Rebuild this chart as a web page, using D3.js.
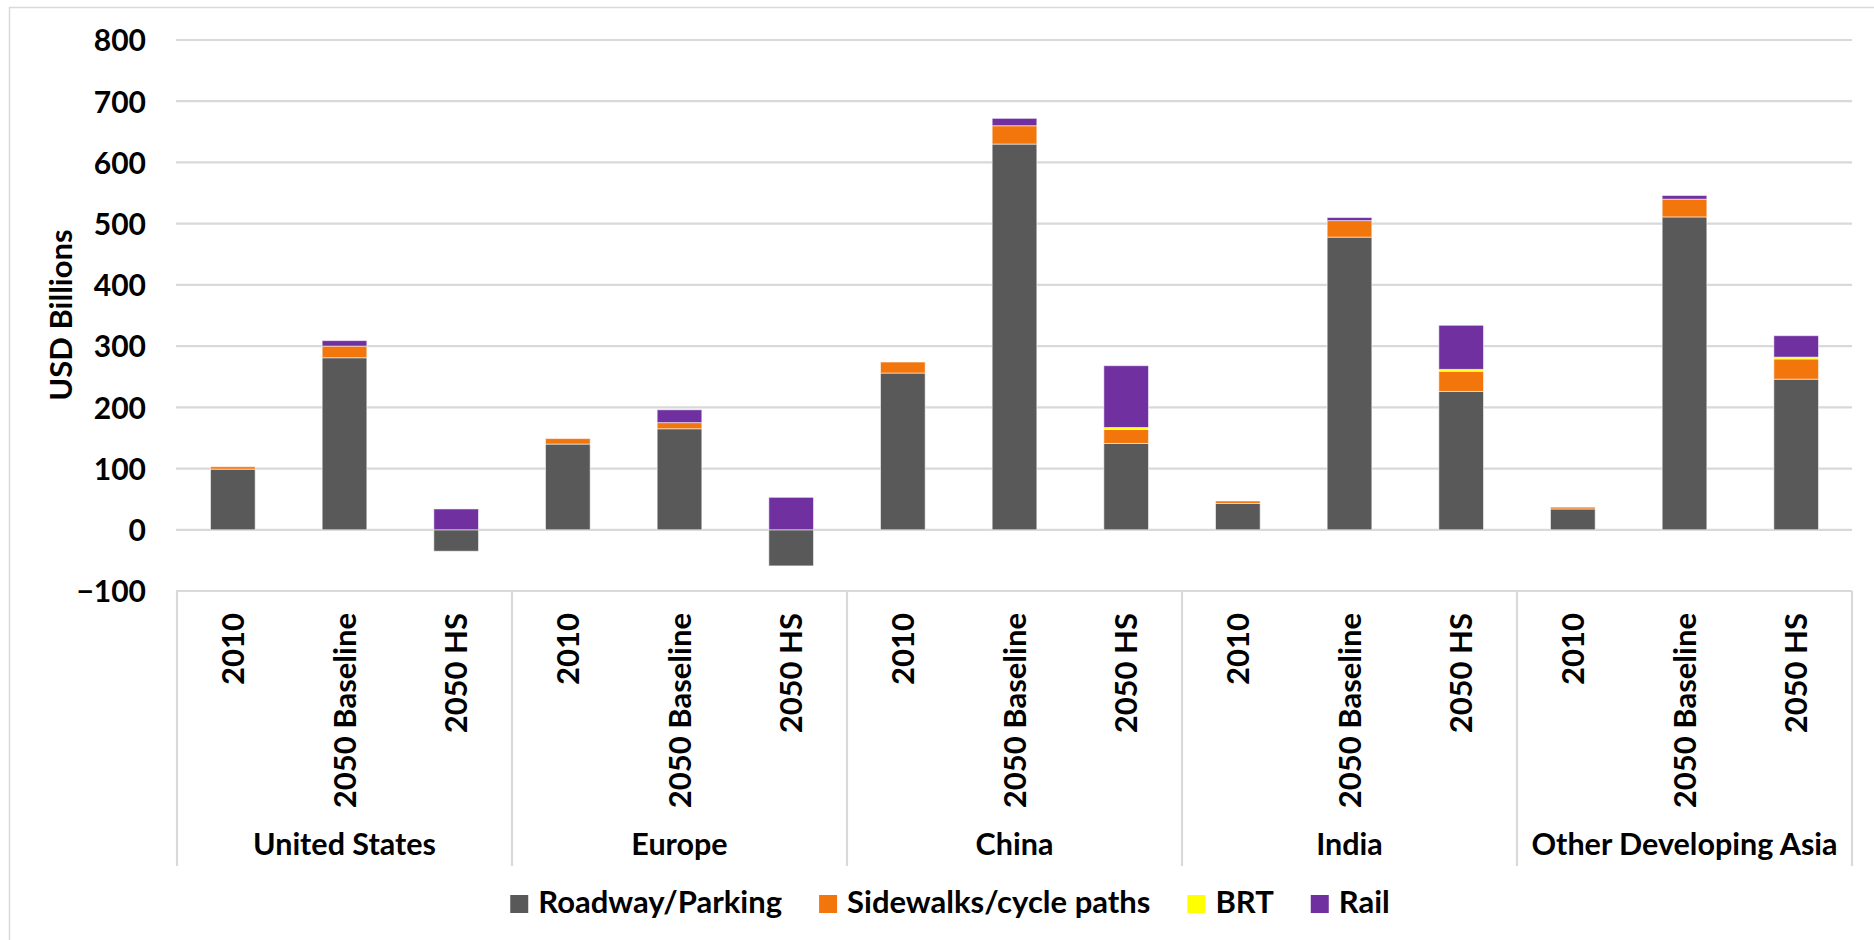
<!DOCTYPE html>
<html>
<head>
<meta charset="utf-8">
<script src="https://cdn.jsdelivr.net/npm/d3@7"></script>
<style>
  body { margin: 0; background: #fff; }
  svg text { font-family: "Lato", "Open Sans", sans-serif; font-weight: 700; fill: #000; }
</style>
</head>
<body>
<div id="chart"></div>
<script>
var regions = ["United States", "Europe", "China", "India", "Other Developing Asia"];
var scenarios = ["2010", "2050 Baseline", "2050 HS"];
var seriesNames = ["Roadway/Parking", "Sidewalks/cycle paths", "BRT", "Rail"];
var seriesColors = ["#595959", "#f3760d", "#ffff00", "#7030a0"];

// one value per region x scenario, in region order
var roadway   = [99, 281, -35, 140, 165, -59, 256, 630, 141, 43, 478, 226, 34, 511, 246];
var sidewalks = [4, 19, 0, 9, 10, 0, 18, 30, 23, 4, 27, 33, 3, 29, 33];
var brt       = [0, 0, 0, 0, 0, 0, 0, 0, 3, 0, 0, 3, 0, 0, 3];
var rail      = [0, 9, 34, 0, 21, 53, 0, 12, 101, 0, 5, 72, 0, 6, 35];

var yTicks = [-100, 0, 100, 200, 300, 400, 500, 600, 700, 800];

var width = 1874, height = 940;
var plot = {left: 177, right: 1852, top: 40, bottom: 591};
var boxBottom = 866;

var svg = d3.select("#chart")
    .append("svg")
    .attr("width", width)
    .attr("height", height);

// outer chart border
svg.append("rect")
    .attr("x", 9.5)
    .attr("y", 7.5)
    .attr("width", 1880)
    .attr("height", 950)
    .attr("fill", "none")
    .attr("stroke", "#d9d9d9")
    .attr("stroke-width", 1.5);

var data = [];
regions.forEach(function(r, i) {
  scenarios.forEach(function(s, j) {
    var k = i * 3 + j;
    data.push({
      key: r + "|" + s, region: r, scenario: s,
      "Roadway/Parking": roadway[k],
      "Sidewalks/cycle paths": sidewalks[k],
      "BRT": brt[k],
      "Rail": rail[k]
    });
  });
});

var x = d3.scaleBand()
    .domain(data.map(function(d) { return d.key; }))
    .range([plot.left, plot.right])
    .paddingInner(0.6)
    .paddingOuter(0.3);

var y = d3.scaleLinear()
    .domain([-100, 800])
    .range([plot.bottom, plot.top]);

var color = d3.scaleOrdinal()
    .domain(seriesNames)
    .range(seriesColors);

// gridlines
svg.append("g")
    .selectAll("line")
    .data(yTicks)
    .enter().append("line")
    .attr("x1", plot.left - 1)
    .attr("x2", plot.right)
    .attr("y1", function(d) { return y(d); })
    .attr("y2", function(d) { return y(d); })
    .attr("stroke", "#d9d9d9")
    .attr("stroke-width", 2.2);

// y axis labels
var yAxis = d3.axisLeft(y).tickValues(yTicks).tickSize(0).tickPadding(0);
var yg = svg.append("g")
    .attr("transform", "translate(146,0)")
    .call(yAxis);
yg.select(".domain").remove();
yg.selectAll("text")
    .attr("font-size", 30)
    .attr("font-family", null)
    .attr("dy", "0.36em");

svg.append("text")
    .attr("transform", "translate(72,315) rotate(-90)")
    .attr("text-anchor", "middle")
    .attr("font-size", 31)
    .text("USD Billions");

// stacked bars
var stack = d3.stack()
    .keys(seriesNames)
    .offset(d3.stackOffsetDiverging);

var layers = svg.append("g")
    .selectAll("g")
    .data(stack(data))
    .enter().append("g")
    .attr("fill", function(d) { return color(d.key); });

layers.selectAll("rect")
    .data(function(d) { return d.filter(function(p) { return p[1] !== p[0]; }); })
    .enter().append("rect")
    .attr("x", function(d) { return x(d.data.key); })
    .attr("width", x.bandwidth())
    .attr("y", function(d) { return y(Math.max(d[0], d[1])); })
    .attr("height", function(d) { return Math.abs(y(d[0]) - y(d[1])); })
    .attr("stroke", "#ffffff")
    .attr("stroke-opacity", 0.55)
    .attr("stroke-width", 1);

// category box under the plot
var step = x.step();
var groupEdges = d3.range(regions.length + 1).map(function(i) { return plot.left + i * 3 * step; });

svg.append("g")
    .selectAll("line")
    .data(groupEdges)
    .enter().append("line")
    .attr("x1", function(d) { return d; })
    .attr("x2", function(d) { return d; })
    .attr("y1", plot.bottom)
    .attr("y2", boxBottom)
    .attr("stroke", "#d9d9d9")
    .attr("stroke-width", 2.2);

svg.append("g")
    .selectAll("text")
    .data(data)
    .enter().append("text")
    .attr("transform", function(d) {
      return "translate(" + (x(d.key) + x.bandwidth() / 2) + ",613) rotate(-90)";
    })
    .attr("text-anchor", "end")
    .attr("dy", "0.36em")
    .attr("font-size", 31)
    .text(function(d) { return d.scenario; });

svg.append("g")
    .selectAll("text")
    .data(regions)
    .enter().append("text")
    .attr("x", function(d, i) { return (groupEdges[i] + groupEdges[i + 1]) / 2; })
    .attr("y", 855)
    .attr("text-anchor", "middle")
    .attr("font-size", 30.5)
    .text(function(d) { return d; });

// legend, centred under the chart
var legend = svg.append("g");
var items = legend.selectAll("g")
    .data(seriesNames)
    .enter().append("g");

items.append("rect")
    .attr("y", 895)
    .attr("width", 18)
    .attr("height", 18)
    .attr("fill", function(d) { return color(d); });

items.append("text")
    .attr("x", 28)
    .attr("y", 913)
    .attr("font-size", 31)
    .text(function(d) { return d; });

var gap = 37;
var offset = 0;
items.each(function() {
  var g = d3.select(this);
  var w = 28 + g.select("text").node().getComputedTextLength();
  g.attr("transform", "translate(" + offset + ",0)");
  offset += w + gap;
});
var legendWidth = offset - gap;
legend.attr("transform", "translate(" + (950 - legendWidth / 2) + ",0)");
</script>
</body>
</html>
